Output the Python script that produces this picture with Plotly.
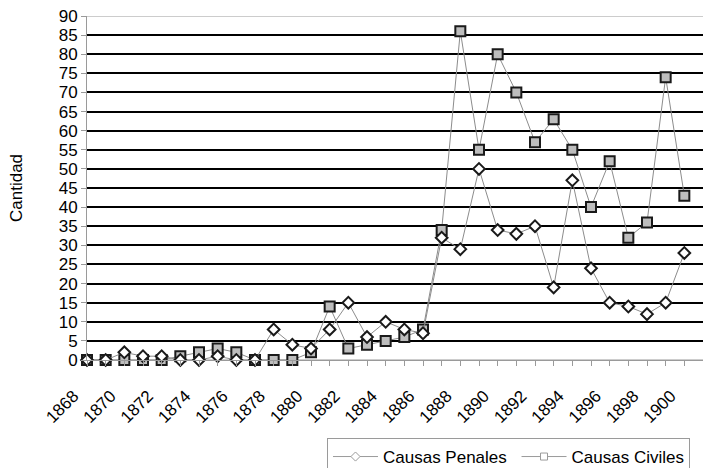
import plotly.graph_objects as go

years = list(range(1868, 1901))
penales = [0, 0, 2, 1, 1, 0, 0, 1, 0, 0, 8, 4, 3,
           8, 15, 6, 10, 8, 7, 32, 29, 50, 34, 33, 35, 19, 47, 24, 15, 14, 12, 15, 28]
civiles = [0, 0, 0, 0, 0, 1, 2, 3, 2, 0, 0, 0, 2,
           14, 3, 4, 5, 6, 8, 34, 86, 55, 80, 70, 57, 63, 55, 40, 52, 32, 36, 74, 43]
tick_labels = [str(y) + "\u00a0" * 4 if y % 2 == 0 else "" for y in years]
y_ticks = list(range(0, 95, 5))

FONT = "Liberation Sans, Arial, sans-serif"

fig = go.Figure()
fig.add_trace(go.Scatter(
    x=years, y=civiles, mode="lines+markers", name="Causas Civiles",
    line=dict(color="#8c8c8c", width=1),
    marker=dict(symbol="square", size=10, color="#bdbdbd",
                line=dict(color="#1a1a1a", width=2)),
    showlegend=False, cliponaxis=False))
fig.add_trace(go.Scatter(
    x=years, y=penales, mode="lines+markers", name="Causas Penales",
    line=dict(color="#8c8c8c", width=1),
    marker=dict(symbol="diamond", size=9, color="white",
                line=dict(color="#1a1a1a", width=2)),
    showlegend=False, cliponaxis=False))
# legend entries (lighter styling like the reference legend)
fig.add_trace(go.Scatter(
    x=[None], y=[None], mode="lines+markers", name="Causas Penales\u00a0",
    line=dict(color="#9a9a9a", width=1),
    marker=dict(symbol="diamond", size=7, color="white",
                line=dict(color="#9a9a9a", width=1))))
fig.add_trace(go.Scatter(
    x=[None], y=[None], mode="lines+markers", name="Causas Civiles",
    line=dict(color="#9a9a9a", width=1),
    marker=dict(symbol="square", size=7, color="white",
                line=dict(color="#9a9a9a", width=1))))

fig.update_layout(
    width=703, height=468,
    margin=dict(l=87, r=0, t=16, b=108, autoexpand=False),
    paper_bgcolor="white", plot_bgcolor="white",
    font=dict(family=FONT, size=17, color="black"),
    showlegend=True,
    legend=dict(orientation="h", x=0.3896, xanchor="left",
                y=-0.2267, yanchor="top",
                bordercolor="#9a9a9a", borderwidth=1,
                font=dict(family=FONT, size=17, color="black"),
                itemwidth=45, bgcolor="white"),
    xaxis=dict(range=[1868, 1901], tickmode="array", tickvals=years,
               ticktext=tick_labels, tickangle=-45,
               ticks="outside", ticklen=5, tickcolor="#9a9a9a",
               showline=True, linecolor="#9a9a9a", linewidth=1,
               showgrid=False, zeroline=False,
               tickfont=dict(family=FONT, size=17)),
    yaxis=dict(range=[0, 90], tickmode="array", tickvals=y_ticks,
               ticks="outside", ticklen=5, tickcolor="#9a9a9a",
               showline=True, linecolor="#9a9a9a", linewidth=1,
               showgrid=True, gridcolor="black", gridwidth=2,
               zeroline=False, tickfont=dict(family=FONT, size=17)),
    shapes=[
        dict(type="line", xref="paper", yref="y", x0=0, x1=1, y0=90, y1=90,
             line=dict(color="white", width=3), layer="between"),
        dict(type="line", xref="paper", yref="y", x0=0, x1=1, y0=90, y1=90,
             line=dict(color="#9a9a9a", width=1), layer="between"),
        dict(type="line", xref="paper", yref="y", x0=0, x1=1, y0=0, y1=0,
             line=dict(color="white", width=3), layer="between"),
        dict(type="line", xref="paper", yref="y", x0=0, x1=1, y0=0, y1=0,
             line=dict(color="#9a9a9a", width=1), layer="between"),
    ],
    annotations=[dict(text="Cantidad", xref="paper", yref="paper",
                      x=-0.1153, y=0.5, textangle=-90, showarrow=False,
                      xanchor="center", yanchor="middle",
                      font=dict(family=FONT, size=17))],
)

fig.write_html("out.html")
